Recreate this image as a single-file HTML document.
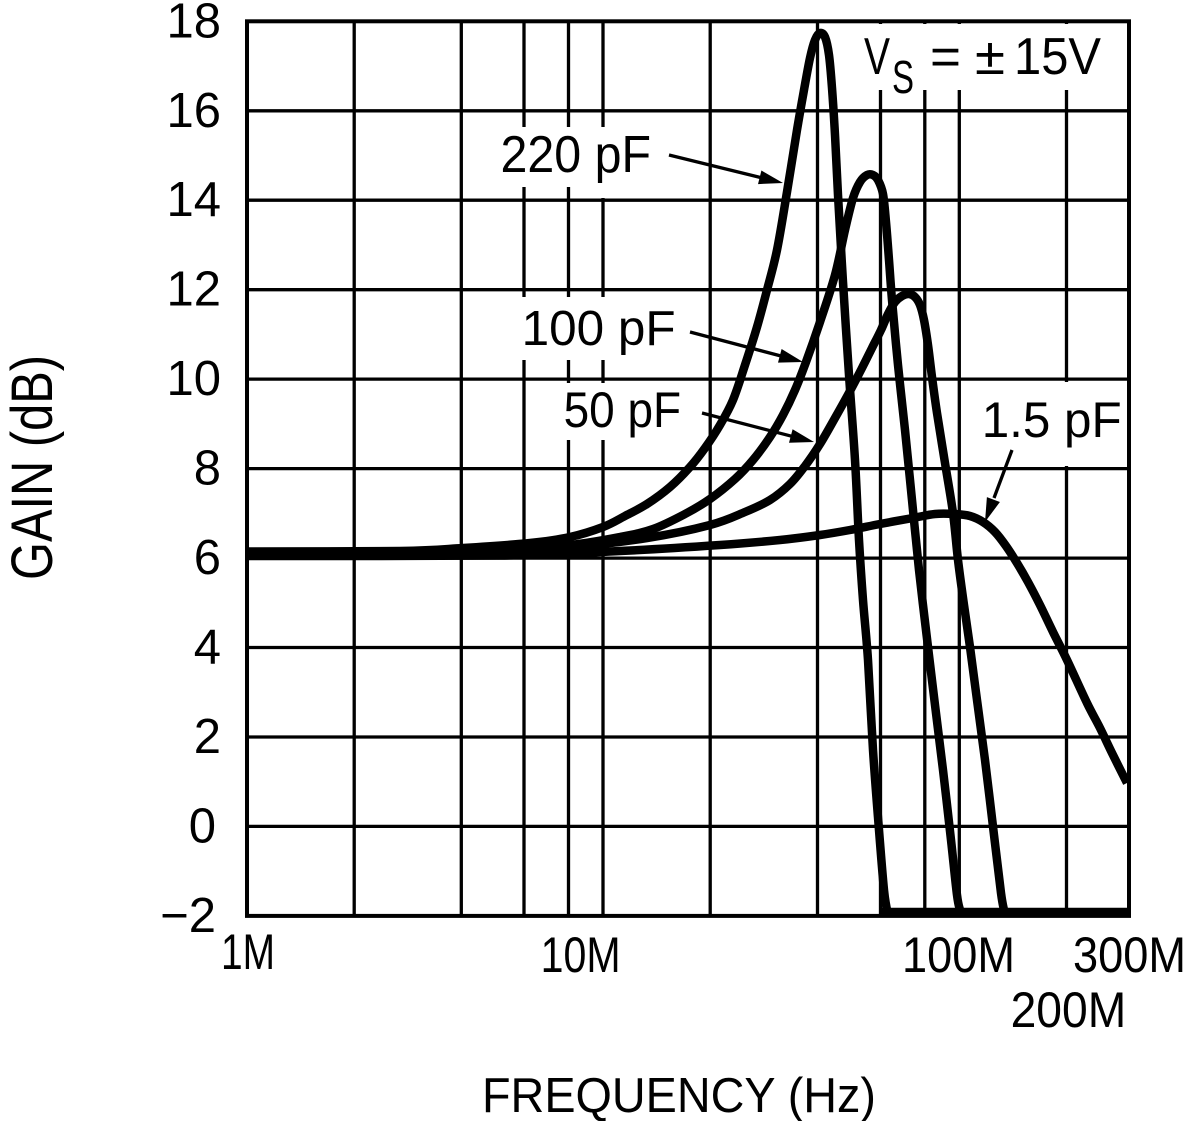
<!DOCTYPE html>
<html>
<head>
<meta charset="utf-8">
<style>
html,body{margin:0;padding:0;background:#fff;}
svg{display:block;}
</style>
</head>
<body>
<svg id="chart" width="1185" height="1121" viewBox="0 0 1185 1121" xmlns="http://www.w3.org/2000/svg" font-family="'Liberation Sans', 'DejaVu Sans', sans-serif">
<rect width="1185" height="1121" fill="#fff"/>

<!-- grid -->
<g stroke="#000" stroke-width="3.3" fill="none">
  <line x1="354.2" y1="21.3" x2="354.2" y2="915.9"/>
  <line x1="461.3" y1="21.3" x2="461.3" y2="915.9"/>
  <line x1="524" y1="21.3" x2="524" y2="915.9"/>
  <line x1="568.5" y1="21.3" x2="568.5" y2="915.9"/>
  <line x1="603" y1="21.3" x2="603" y2="915.9"/>
  <line x1="710.2" y1="21.3" x2="710.2" y2="915.9"/>
  <line x1="817.5" y1="21.3" x2="817.5" y2="915.9"/>
  <line x1="880.5" y1="21.3" x2="880.5" y2="915.9"/>
  <line x1="924.8" y1="21.3" x2="924.8" y2="915.9"/>
  <line x1="959.3" y1="21.3" x2="959.3" y2="915.9"/>
  <line x1="1066.5" y1="21.3" x2="1066.5" y2="915.9"/>

  <line x1="247" y1="110.8" x2="1129" y2="110.8"/>
  <line x1="247" y1="200.2" x2="1129" y2="200.2"/>
  <line x1="247" y1="289.7" x2="1129" y2="289.7"/>
  <line x1="247" y1="379.1" x2="1129" y2="379.1"/>
  <line x1="247" y1="468.6" x2="1129" y2="468.6"/>
  <line x1="247" y1="558.1" x2="1129" y2="558.1"/>
  <line x1="247" y1="647.5" x2="1129" y2="647.5"/>
  <line x1="247" y1="737" x2="1129" y2="737"/>
  <line x1="247" y1="826.4" x2="1129" y2="826.4"/>
</g>

<!-- white label backgrounds -->
<g fill="#fff">
  <rect x="495" y="127" width="165" height="60"/>
  <rect x="597" y="127" width="12" height="71"/>
  <rect x="515" y="297" width="170" height="63"/>
  <rect x="545" y="383" width="145" height="57"/>
  <rect x="975" y="382" width="149" height="84"/>
  <rect x="856" y="24" width="254" height="66"/>
</g>

<!-- border -->
<rect x="247" y="21.3" width="882" height="894.6" fill="none" stroke="#000" stroke-width="4"/>

<!-- curves -->
<g id="curves" fill="none" stroke="#000" stroke-width="8.5" stroke-linejoin="round" stroke-linecap="butt">
  <!-- 220 pF -->
  <polyline class="s" points="247,551.5 400,551 463,548 530,543 570,537 603,527 625,516 647,504 670,487 690,467 705,448 720,425 733,400 745,365 757,327 767,290 777,250 787,192 797,130 804,90 810,58 815,40 820,33 825,37 829,55 832,88 835,135 838,195 843,282 849,375 855,460 859,540 863,600 868,660 873,750 879,830 884,890 887,910"/>
  <line x1="882" y1="912" x2="1127" y2="912"/>
  <!-- 100 pF -->
  <polyline class="s" points="247,553 400,552.5 500,550 570,545 620,537 653,529 685,514 710,499 735,479 753,460 770,437 783,415 795,390 806,362 820,322 835,275 845,230 853,198 860,182 867,175 873,175 878,180 883,194 886,222 889,260 892,300 898,365 905,430 912,500 919,570 928,647 935,705 943,770 951,840 957,895 960,910"/>
  <!-- 50 pF -->
  <polyline class="s" points="247,554.5 450,554 570,547 647,538 710,525 745,512 770,500 790,484 805,466 820,444 835,418 850,391 862,368 872,348 881,330 888,314 895,302 902,296 909,294 915,297 920,305 924,320 928,345 932,377 937,413 945,463 953,513 958,560 964,605 970,647 977,700 985,760 994,835 1001,893 1004,910"/>
  <!-- 1.5 pF -->
  <polyline class="s" points="247,556 500,555.5 620,551 720,545 780,540 820,535 850,530 880,524 913,518 935,514 955,514 970,516 983,522 995,532 1006,546 1017,563 1028,582 1040,605 1053,632 1067,660 1087,703 1100,728 1112,753 1127,783"/>
</g>

<!-- arrows -->
<g stroke="#000" stroke-width="3.3" fill="none">
  <line x1="669" y1="155" x2="761" y2="177.6"/>
  <line x1="690" y1="332" x2="781" y2="356"/>
  <line x1="702" y1="413" x2="792" y2="436.3"/>
  <line x1="1012" y1="450" x2="994" y2="498"/>
</g>
<g fill="#000">
  <polygon points="783,183 758,184.1 761.4,170.5"/>
  <polygon points="803,362 778,362.6 781.6,349"/>
  <polygon points="814,442 789,442.8 792.6,429.2"/>
  <polygon points="985,522 986.9,497.1 999.9,502"/>
</g>

<!-- y tick labels -->
<g font-size="49" fill="#000" text-anchor="end">
  <text x="221" y="37.3">18</text>
  <text x="221" y="126.8">16</text>
  <text x="221" y="216.2">14</text>
  <text x="221" y="305.7">12</text>
  <text x="221" y="395.1">10</text>
  <text x="221" y="484.6">8</text>
  <text x="221" y="574.1">6</text>
  <text x="221" y="663.5">4</text>
  <text x="221" y="753">2</text>
  <text x="216" y="842.4">0</text>
  <text x="216" y="931.9">−2</text>
</g>

<!-- x tick labels -->
<g font-size="50" fill="#000">
  <text x="221" y="969" textLength="54" lengthAdjust="spacingAndGlyphs">1M</text>
  <text x="540.6" y="972" textLength="80" lengthAdjust="spacingAndGlyphs">10M</text>
  <text x="902" y="972" textLength="113" lengthAdjust="spacingAndGlyphs">100M</text>
  <text x="1073" y="972" textLength="113" lengthAdjust="spacingAndGlyphs">300M</text>
  <text x="1010.6" y="1027" textLength="115.6" lengthAdjust="spacingAndGlyphs">200M</text>
</g>

<!-- axis titles -->
<text x="482" y="1112" font-size="49" fill="#000" textLength="394" lengthAdjust="spacingAndGlyphs">FREQUENCY (Hz)</text>
<text transform="translate(52,580) rotate(-90)" x="0" y="0" font-size="58" fill="#000" textLength="225" lengthAdjust="spacingAndGlyphs">GAIN (dB)</text>

<!-- curve labels -->
<g fill="#000">
  <text x="500.5" y="172" font-size="52" textLength="150.5" lengthAdjust="spacingAndGlyphs">220 pF</text>
  <text x="521.6" y="345" font-size="49" textLength="154" lengthAdjust="spacingAndGlyphs">100 pF</text>
  <text x="563.6" y="427" font-size="50" textLength="117.5" lengthAdjust="spacingAndGlyphs">50 pF</text>
  <text x="981.7" y="437" font-size="50" textLength="140" lengthAdjust="spacingAndGlyphs">1.5 pF</text>
</g>

<!-- Vs label -->
<g fill="#000">
  <text x="864" y="74" font-size="52" textLength="26" lengthAdjust="spacingAndGlyphs">V</text>
  <text x="892" y="93" font-size="46" textLength="22" lengthAdjust="spacingAndGlyphs">S</text>
  <text x="930" y="74" font-size="52" textLength="31" lengthAdjust="spacingAndGlyphs">=</text>
  <text x="975" y="74" font-size="52" textLength="30" lengthAdjust="spacingAndGlyphs">±</text>
  <text x="1014" y="74" font-size="52" textLength="87" lengthAdjust="spacingAndGlyphs">15V</text>
</g>
</svg>
<script>
(function(){
  var NS = "http://www.w3.org/2000/svg";
  var pls = document.querySelectorAll('polyline.s');
  for (var k = 0; k < pls.length; k++) {
    var pl = pls[k];
    var raw = pl.getAttribute('points').trim().split(/\s+/);
    var pts = raw.map(function(p){ var a = p.split(','); return [parseFloat(a[0]), parseFloat(a[1])]; });
    var d = 'M' + pts[0][0] + ',' + pts[0][1];
    for (var i = 0; i < pts.length - 1; i++) {
      var p0 = pts[Math.max(0, i - 1)], p1 = pts[i], p2 = pts[i + 1], p3 = pts[Math.min(pts.length - 1, i + 2)];
      var c1x = p1[0] + (p2[0] - p0[0]) / 6, c1y = p1[1] + (p2[1] - p0[1]) / 6;
      var c2x = p2[0] - (p3[0] - p1[0]) / 6, c2y = p2[1] - (p3[1] - p1[1]) / 6;
      d += ' C' + c1x.toFixed(2) + ',' + c1y.toFixed(2) + ' ' + c2x.toFixed(2) + ',' + c2y.toFixed(2) + ' ' + p2[0] + ',' + p2[1];
    }
    var path = document.createElementNS(NS, 'path');
    path.setAttribute('d', d);
    pl.parentNode.replaceChild(path, pl);
  }
})();
</script>
</body>
</html>
